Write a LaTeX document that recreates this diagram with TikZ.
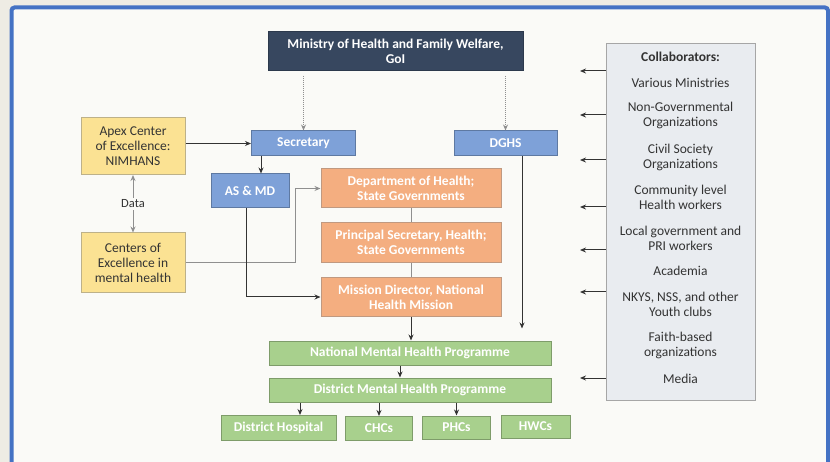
\documentclass[tikz,border=0pt]{standalone}
\usepackage{fontspec}
\setmainfont{Carlito}
\usepackage{tikz}
\usetikzlibrary{arrows.meta,positioning,calc}

\definecolor{marco}{HTML}{4472C4}
\definecolor{fondo}{HTML}{FAFAF7}
\definecolor{afuera}{HTML}{EEECE4}
\definecolor{marino}{HTML}{37475F}
\definecolor{azul}{HTML}{7EA1D8}
\definecolor{amarillo}{HTML}{FBE293}
\definecolor{naranja}{HTML}{F4AE80}
\definecolor{verde}{HTML}{A8D08D}
\definecolor{gris}{HTML}{E9ECF0}
\definecolor{linea}{HTML}{8F8F8F}
\definecolor{texto}{HTML}{333333}

\begin{document}
\begin{tikzpicture}[x=1pt, y=-1pt,
    caja/.style = {draw, line width=1pt, align=center, inner sep=1pt,
                   font=\fontsize{13.5}{15}\selectfont\bfseries, text=white},
    cajaazul/.style = {caja, fill=azul, draw=azul!75!black},
    cajanaranja/.style = {caja, fill=naranja, draw=naranja!55!gray},
    cajaverde/.style = {caja, fill=verde, draw=verde!75!black},
    cajaamarilla/.style = {caja, fill=amarillo, draw=amarillo!50!gray, text=texto,
                   font=\fontsize{13.5}{15}\selectfont},
    flecha/.style = {-{Stealth[length=6pt,width=5pt]}, line width=1pt, draw=texto},
    flechagris/.style = {-{Stealth[length=6pt,width=5pt]}, line width=1pt, draw=linea},
    punteada/.style = {flecha, densely dotted, draw=linea, shorten <=5pt},
    colab/.style = {align=center, text=texto, font=\fontsize{13.5}{15}\selectfont}]
    \useasboundingbox (0,0) rectangle (830,462);
    \fill[afuera] (0,0) rectangle (830,462);
    \draw[marco, fill=fondo, line width=4pt, rounded corners=3pt] (11.5,7.5) rectangle (828,475);   % Marco azul

    % Gobierno central
    \node[caja, fill=marino, draw=marino!80!black, minimum width=255, minimum height=39] (mohfw) at (395.5,51)
        {Ministry of Health and Family Welfare,\\ GoI};
    \node[cajaazul, minimum width=104, minimum height=25] (secy) at (303.5,143.5) {Secretary};
    \node[cajaazul, minimum width=103, minimum height=25] (dghs) at (505.5,143.5) {DGHS};
    \node[cajaazul, minimum width=78, minimum height=34] (asmd) at (250,191) {AS \& MD};

    % Centros de excelencia
    \node[cajaamarilla, minimum width=104, minimum height=57] (apex) at (133,146)
        {Apex Center\\ of Excellence:\\ NIMHANS};
    \node[cajaamarilla, minimum width=104, minimum height=60] (coe) at (133,263)
        {Centers of\\ Excellence in\\ mental health};

    % Gobiernos estatales
    \node[cajanaranja, minimum width=180, minimum height=39] (doh) at (411,188.5)
        {Department of Health;\\ State Governments};
    \node[cajanaranja, minimum width=180, minimum height=40] (psh) at (411,242.5)
        {Principal Secretary, Health;\\ State Governments};
    \node[cajanaranja, minimum width=180, minimum height=39] (mdnhm) at (411,297)
        {Mission Director, National\\ Health Mission};

    % Programas
    \node[cajaverde, minimum width=282, minimum height=24] (nmhp) at (410,353) {National Mental Health Programme};
    \node[cajaverde, minimum width=282, minimum height=24] (dmhp) at (410,390) {District Mental Health Programme};
    \node[cajaverde, minimum width=115, minimum height=25] (dh) at (278.5,428) {District Hospital};
    \node[cajaverde, minimum width=67, minimum height=24] (chc) at (379,428.5) {CHCs};
    \node[cajaverde, minimum width=68, minimum height=23] (phc) at (456.5,427.5) {PHCs};
    \node[cajaverde, minimum width=69, minimum height=23] (hwc) at (535.5,426.5) {HWCs};

    % Colaboradores
    \node[draw=gray!70, line width=1pt, fill=gris, minimum width=149, minimum height=356] (collab) at (680.5,222) {};
    \node[colab, font=\fontsize{13.5}{15}\selectfont\bfseries] (ctitle) at (680.5,57) {Collaborators:};
    \foreach \y/\t [count=\i] in {83/Various Ministries,
                       115.5/{Non-Governmental\\ Organizations},
                       157/{Civil Society\\ Organizations},
                       197.5/{Community level\\ Health workers},
                       238.5/{Local government and\\ PRI workers},
                       271/Academia,
                       304.5/{NKYS, NSS, and other\\ Youth clubs},
                       345.5/{Faith-based\\ organizations},
                       379/Media}
        \node[colab] (item\i) at (680.5,\y) {\t};
    \foreach \y [count=\i] in {71,115,160,207,250,292,378}   % Flechas a la izq.
    {
        \coordinate (c\i) at (580,\y);
        \draw[flecha] (collab.west |- c\i) -- (c\i);
    }

    % Conexiones
    \draw[punteada] (secy.north |- mohfw.south) -- (secy.north);
    \draw[punteada] (dghs.north |- mohfw.south) -- (dghs.north);
    \draw[flecha] (apex.east |- secy.west) -- (secy.west);
    \draw[flecha] ([xshift=10]secy.south west) -- ([xshift=10]secy.south west |- asmd.north);
    \draw[{Stealth[length=6pt,width=5pt]}-{Stealth[length=6pt,width=5pt]}, line width=1pt, draw=linea]
        (apex.south) -- node[fill=fondo, text=texto, inner sep=2pt, font=\fontsize{12.5}{14}\selectfont] (data) {Data} (coe.north);
    \draw[flechagris] (coe.east) -- ++(110,0) |- (doh.west);
    \draw[flecha] ([xshift=-4]asmd.south) |- (mdnhm.west);
    \draw[line width=1pt, draw=linea] (doh.south) -- (psh.north);
    \draw[line width=1pt, draw=linea] (psh.south) -- (mdnhm.north);
    \draw[flecha] (mdnhm.south) -- (mdnhm.south |- nmhp.north);
    \draw[flecha, shorten >=12pt] ([xshift=16.5]dghs.south) -- ([xshift=16.5]dghs.south |- nmhp.north);
    \draw[flecha] ([xshift=-10]nmhp.south) -- ([xshift=-10]nmhp.south |- dmhp.north);
    \draw[flecha] ([xshift=21.5]dh.north |- dmhp.south) -- ([xshift=21.5]dh.north);
    \draw[flecha] (chc.north |- dmhp.south) -- (chc.north);
    \draw[flecha] (phc.north |- dmhp.south) -- (phc.north);
\end{tikzpicture}
\end{document}
